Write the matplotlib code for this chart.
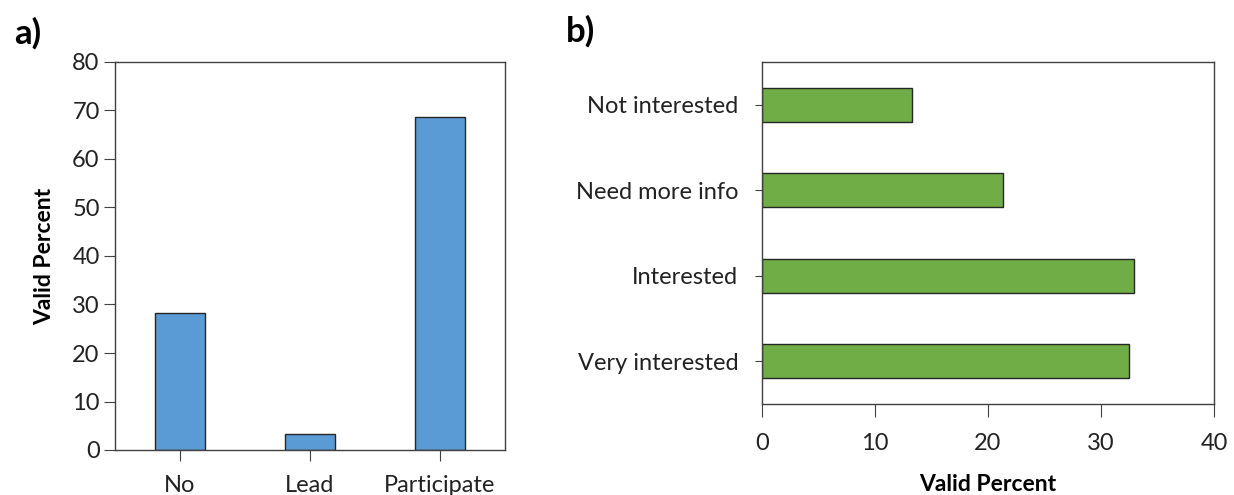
import matplotlib
matplotlib.use("Agg")
import matplotlib.pyplot as plt

# panel a
roles = ["No", "Lead", "Participate"]
role_pct = [28.2, 3.4, 68.7]

# panel b
interest = ["Very interested", "Interested", "Need more info", "Not interested"]
interest_pct = [32.5, 32.9, 21.3, 13.3]

plt.rcParams["font.family"] = ["Lato", "DejaVu Sans"]
edge = "#262626"
spine = "#404040"

W, H = 1234, 495
fig = plt.figure(figsize=(W / 100, H / 100), dpi=100)

def box(l, r, t, b):
    return [l / W, (H - b) / H, (r - l) / W, (b - t) / H]

ax1 = fig.add_axes(box(115, 505, 62, 450))
ax2 = fig.add_axes(box(762, 1214, 62, 404))

ax1.bar(range(len(roles)), role_pct, width=0.39, color="#5B9BD5",
        edgecolor=edge, linewidth=1.0)
ax1.set_xlim(-0.5, 2.5)
ax1.set_ylim(0, 80)
ax1.set_yticks(range(0, 81, 10))
ax1.set_xticks(range(len(roles)))
ax1.set_xticklabels(roles)
ax1.set_ylabel("Valid Percent", fontsize=16.5, fontweight="bold", labelpad=12)
ax1.tick_params(axis="y", length=8, pad=3, labelsize=17, color=spine, labelcolor="#222222")
ax1.tick_params(axis="x", length=8, pad=10, labelsize=17, color=spine, labelcolor="#222222")

ax2.barh(range(len(interest)), interest_pct, height=0.4, color="#70AD47",
         edgecolor=edge, linewidth=1.0)
ax2.set_ylim(-0.5, 3.5)
ax2.set_xlim(0, 40)
ax2.set_xticks(range(0, 41, 10))
ax2.set_yticks(range(len(interest)))
ax2.set_yticklabels(interest)
ax2.set_xlabel("Valid Percent", fontsize=16.5, fontweight="bold", labelpad=14)
ax2.tick_params(axis="y", length=5, pad=12, labelsize=17, color=spine, labelcolor="#222222")
ax2.tick_params(axis="x", length=9, pad=12, labelsize=17, color=spine, labelcolor="#222222")

for ax in (ax1, ax2):
    for s in ax.spines.values():
        s.set_color(spine)
        s.set_linewidth(1.0)

fig.text(14 / W, 1 - 44 / H, "a)", fontsize=25, fontweight="bold")
fig.text(566 / W, 1 - 42 / H, "b)", fontsize=25, fontweight="bold")

fig.savefig("out.png", dpi=100)
